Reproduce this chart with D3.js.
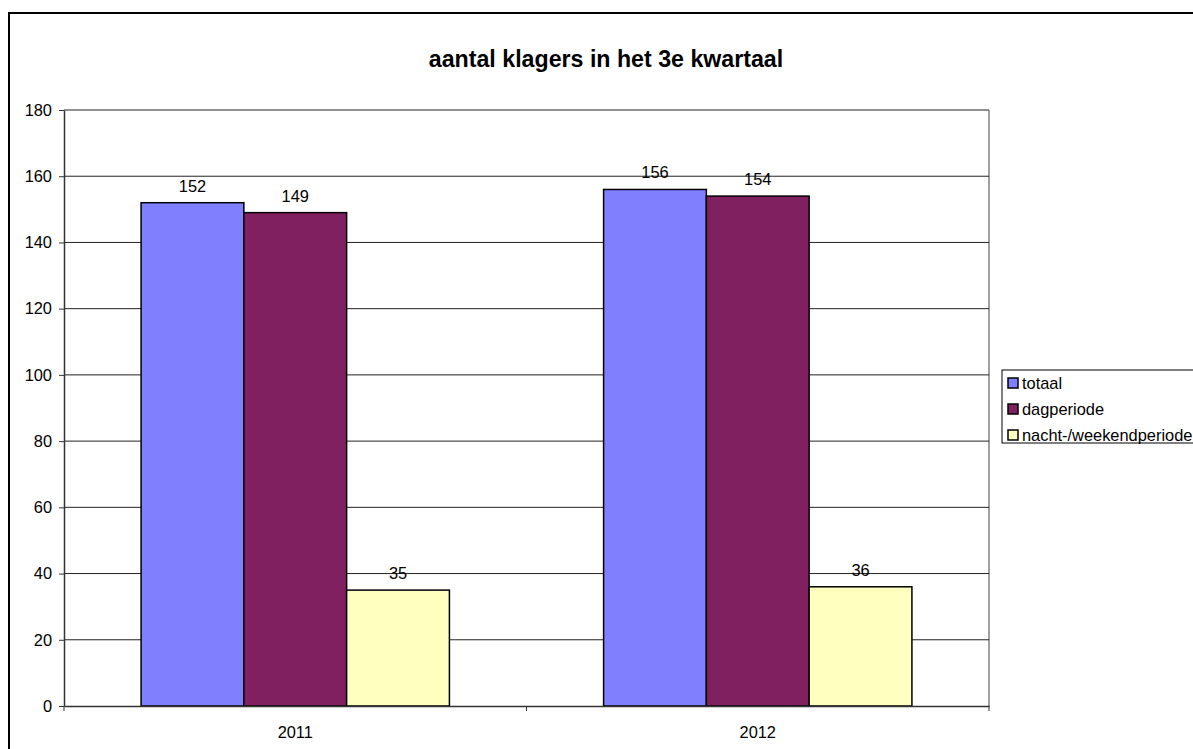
<!DOCTYPE html>
<meta charset="utf-8">
<script src="https://d3js.org/d3.v7.min.js"></script>
<style>
  body { margin: 0; background: #fff; }
  text { font-family: "Liberation Sans", Arial, sans-serif; }
</style>
<div id="chart"></div>
<script>

// data
var years = ["2011", "2012"];
var seriesNames = ["totaal", "dagperiode", "nacht-/weekendperiode"];
var totaal = [152, 156];
var dagperiode = [149, 154];
var nachtWeekend = [35, 36];
var yTicks = [0, 20, 40, 60, 80, 100, 120, 140, 160, 180];

var colors = ["#8080FF", "#802060", "#FFFFC0"];
var seriesValues = [totaal, dagperiode, nachtWeekend];

var W = 1193, H = 749;
var plot = {left: 64, right: 989, top: 110, bottom: 706};
var fontSize = 16.4;

var svg = d3.select("#chart").append("svg")
  .attr("width", W)
  .attr("height", H);

// outer chart border (runs off right and bottom)
svg.append("rect")
  .attr("x", 9).attr("y", 13)
  .attr("width", W + 20).attr("height", H + 20)
  .attr("fill", "#fff")
  .attr("stroke", "#000")
  .attr("stroke-width", 2);

var x = d3.scaleBand()
  .domain(years)
  .range([plot.left, plot.right]);

var y = d3.scaleLinear()
  .domain([0, 180])
  .range([plot.bottom, plot.top]);

// bar width: three bars + 150% gap fill each category
var barW = x.bandwidth() / 4.5;
var xs = d3.scaleBand()
  .domain(seriesNames)
  .range([barW * 0.75, barW * 3.75]);

// plot area right border
svg.append("line")
  .attr("x1", plot.right).attr("x2", plot.right)
  .attr("y1", plot.top).attr("y2", plot.bottom)
  .attr("stroke", "#808080")
  .attr("stroke-width", 1.5);

// gridlines
svg.selectAll(".grid")
  .data(yTicks.filter(function(d) { return d > 0; }))
  .enter().append("line")
  .attr("x1", plot.left).attr("x2", plot.right)
  .attr("y1", function(d) { return y(d); })
  .attr("y2", function(d) { return y(d); })
  .attr("stroke", "#222")
  .attr("stroke-width", 1);

// bars
seriesNames.forEach(function(name, i) {
  var g = svg.append("g");
  g.selectAll("rect")
    .data(seriesValues[i])
    .enter().append("rect")
    .attr("x", function(d, j) { return x(years[j]) + xs(name); })
    .attr("y", function(d) { return y(d); })
    .attr("width", xs.bandwidth())
    .attr("height", function(d) { return y(0) - y(d); })
    .attr("fill", colors[i])
    .attr("stroke", "#000")
    .attr("stroke-width", 1.5);

  g.selectAll("text")
    .data(seriesValues[i])
    .enter().append("text")
    .attr("x", function(d, j) { return x(years[j]) + xs(name) + xs.bandwidth() / 2; })
    .attr("y", function(d) { return y(d) - 11; })
    .attr("text-anchor", "middle")
    .attr("font-size", fontSize)
    .text(function(d) { return d; });
});

// y axis
var yAxis = svg.append("g")
  .attr("transform", "translate(" + plot.left + ",0)")
  .call(d3.axisLeft(y).tickValues(yTicks).tickSize(5).tickPadding(7).tickSizeOuter(0));
yAxis.selectAll("text").attr("font-size", fontSize).attr("fill", "#000")
  .style("font-family", "Liberation Sans, Arial, sans-serif");
yAxis.selectAll("line").attr("stroke", "#333");
yAxis.select(".domain").attr("stroke", "#333").attr("stroke-width", 1.5);

// x axis
var xAxis = svg.append("g")
  .attr("transform", "translate(0," + plot.bottom + ")")
  .call(d3.axisBottom(x).tickSize(0).tickPadding(20).tickSizeOuter(0));
xAxis.selectAll("text").attr("font-size", fontSize).attr("fill", "#000")
  .style("font-family", "Liberation Sans, Arial, sans-serif");
xAxis.select(".domain").attr("stroke", "#333").attr("stroke-width", 1.5);
// category separator ticks
svg.selectAll(".xsep")
  .data([plot.left, x("2012"), plot.right])
  .enter().append("line")
  .attr("x1", function(d) { return d; }).attr("x2", function(d) { return d; })
  .attr("y1", plot.bottom).attr("y2", plot.bottom + 5)
  .attr("stroke", "#333");

// title
svg.append("text")
  .attr("x", 606).attr("y", 67)
  .attr("text-anchor", "middle")
  .attr("font-size", 23.2)
  .attr("font-weight", "bold")
  .text("aantal klagers in het 3e kwartaal");

// legend
var legend = svg.append("g").attr("transform", "translate(1002,370)");
legend.append("rect")
  .attr("width", 210).attr("height", 73)
  .attr("fill", "#fff")
  .attr("stroke", "#000");
seriesNames.forEach(function(name, i) {
  var row = legend.append("g").attr("transform", "translate(0," + (13 + i * 26) + ")");
  row.append("rect")
    .attr("x", 6).attr("y", -5)
    .attr("width", 10).attr("height", 10)
    .attr("fill", colors[i])
    .attr("stroke", "#000")
    .attr("stroke-width", 1.5);
  row.append("text")
    .attr("x", 20).attr("y", 6)
    .attr("font-size", fontSize)
    .text(name);
});

</script>
